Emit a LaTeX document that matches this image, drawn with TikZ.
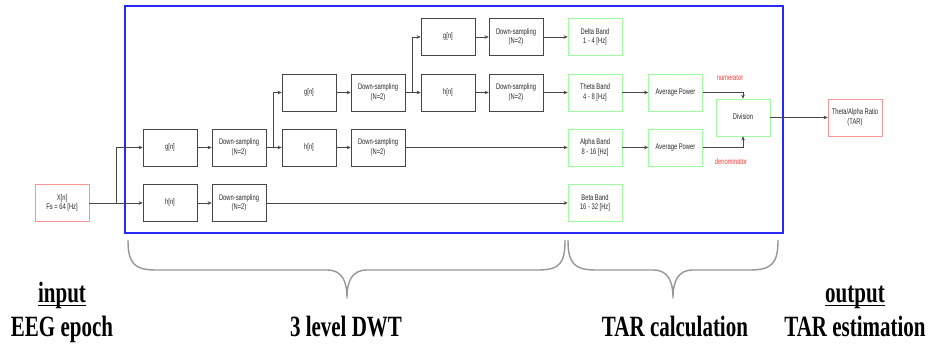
\documentclass[tikz,border=0pt]{standalone}
\usepackage{fontspec}
\usepackage{graphicx}
\setmainfont{Liberation Serif}
\newfontfamily\boxfam{Liberation Sans}
\usetikzlibrary{arrows.meta}

\definecolor{boxline}{RGB}{70,70,70}
\definecolor{boxtext}{RGB}{40,40,40}
\definecolor{bandgreen}{RGB}{160,250,160}
\definecolor{ioRed}{RGB}{250,150,150}
\definecolor{noteRed}{RGB}{255,55,55}
\definecolor{frameBlue}{RGB}{40,40,250}
\definecolor{braceGray}{RGB}{150,150,150}

% small, slightly tall sans text inside the blocks
\newcommand{\stxt}[1]{\scalebox{1}[1.4]{\begin{tabular}{@{}c@{}}#1\end{tabular}}}
% large, tall serif captions under the diagram
\newcommand{\btxt}[1]{\scalebox{1}[1.4]{#1}}
\newcommand{\ulword}[1]{\setbox0\hbox{#1}\rlap{\rule[-2.3pt]{\wd0}{1pt}}\box0}

\tikzset{
  blk/.style={draw=boxline, line width=0.7pt, minimum width=54pt, minimum height=37pt,
    inner sep=0pt, text=boxtext, font=\boxfam\fontsize{5.8}{7}\selectfont},
  band/.style={blk, draw=bandgreen},
  iobox/.style={blk, draw=ioRed},
  conn/.style={draw=boxline, line width=0.7pt},
  arr/.style={conn, -{Stealth[length=4pt,width=3.6pt]}},
  note/.style={text=noteRed, font=\boxfam\fontsize{5.8}{7}\selectfont},
  brace/.style={draw=braceGray, line width=1.4pt, line join=round},
  caption/.style={font=\fontsize{21}{24}\selectfont\bfseries, anchor=base, inner sep=0pt}
}

\begin{document}
\begin{tikzpicture}[x=1pt,y=-1pt]
\useasboundingbox (0,0) rectangle (929,347);

% DWT / TAR processing frame
\draw[frameBlue, line width=2.4pt] (125,6) rectangle (783,233);

% input and output
\node[iobox] (x)   at (62,203)    {\stxt{X[n]\\Fs = 64 [Hz]}};
\node[iobox] (tar) at (855,117.5) {\stxt{Theta/Alpha Ratio\\(TAR)}};

% level 1
\node[blk] (g1)  at (170,147.5) {\stxt{g[n]}};
\node[blk] (d1g) at (239,147.5) {\stxt{Down-sampling\\(N=2)}};
\node[blk] (h1)  at (170,203)   {\stxt{h[n]}};
\node[blk] (d1h) at (239,203)   {\stxt{Down-sampling\\(N=2)}};

% level 2
\node[blk] (g2)  at (309,92.5)  {\stxt{g[n]}};
\node[blk] (d2g) at (378,92.5)  {\stxt{Down-sampling\\(N=2)}};
\node[blk] (h2)  at (309,147.5) {\stxt{h[n]}};
\node[blk] (d2h) at (378,147.5) {\stxt{Down-sampling\\(N=2)}};

% level 3
\node[blk] (g3)  at (448,37)    {\stxt{g[n]}};
\node[blk] (d3g) at (516,37)    {\stxt{Down-sampling\\(N=2)}};
\node[blk] (h3)  at (448,92.5)  {\stxt{h[n]}};
\node[blk] (d3h) at (516,92.5)  {\stxt{Down-sampling\\(N=2)}};

% frequency bands
\node[band] (delta) at (595,37)    {\stxt{Delta Band\\1 - 4 [Hz]}};
\node[band] (theta) at (595,92.5)  {\stxt{Theta Band\\4 - 8 [Hz]}};
\node[band] (alpha) at (595,147.5) {\stxt{Alpha Band\\8 - 16 [Hz]}};
\node[band] (beta)  at (595,203)   {\stxt{Beta Band\\16 - 32 [Hz]}};

% TAR calculation
\node[band] (ap1) at (675.5,92.5)  {\stxt{Average Power}};
\node[band] (ap2) at (675.5,147.5) {\stxt{Average Power}};
\node[band] (div) at (743,117.5)   {\stxt{Division}};

\node[note] (num) at (730,78)  {\scalebox{1}[1.4]{numerator}};
\node[note] (den) at (731,162) {\scalebox{1}[1.4]{denominator}};

% branch points
\coordinate (j0) at (116,203);
\coordinate (j1) at (273,147.5);
\coordinate (j2) at (412,92.5);

% connectors
\draw[conn] (x) -- (j0);
\draw[arr] (j0) -- (h1);
\draw[arr] (j0) |- (g1);
\draw[arr] (g1) -- (d1g);
\draw[arr] (h1) -- (d1h);
\draw[arr] (d1h) -- (beta);

\draw[conn] (d1g) -- (j1);
\draw[arr] (j1) -- (h2);
\draw[arr] (j1) |- (g2);
\draw[arr] (g2) -- (d2g);
\draw[arr] (h2) -- (d2h);
\draw[arr] (d2h) -- (alpha);

\draw[conn] (d2g) -- (j2);
\draw[arr] (j2) -- (h3);
\draw[arr] (j2) |- (g3);
\draw[arr] (g3) -- (d3g);
\draw[arr] (h3) -- (d3h);
\draw[arr] (d3g) -- (delta);
\draw[arr] (d3h) -- (theta);

\draw[arr] (theta) -- (ap1);
\draw[arr] (alpha) -- (ap2);
\draw[arr] (ap1) -| (div);
\draw[arr] (ap2) -| (div);
\draw[arr] (div) -- (tar);

% braces under the stages
\draw[brace] (128,240) .. controls (128,263) and (134,270) .. (156,270)
  -- (327,270) .. controls (342,270) and (347,281) .. (347,298)
  .. controls (347,281) and (352,270) .. (367,270)
  -- (538,270) .. controls (560,270) and (565,263) .. (565,240);
\draw[brace] (568,240) .. controls (568,263) and (574,270) .. (596,270)
  -- (653,270) .. controls (668,270) and (673,281) .. (673,298)
  .. controls (673,281) and (678,270) .. (693,270)
  -- (750,270) .. controls (772,270) and (778,263) .. (778,240);

% captions
\node[caption] (inl)  at (62,303)  {\btxt{\ulword{input}}};
\node[caption] (inc)  at (62,337)  {\btxt{EEG epoch}};
\node[caption] (dwt)  at (346,337) {\btxt{3 level DWT}};
\node[caption] (calc) at (675,337) {\btxt{TAR calculation}};
\node[caption] (outl) at (855,303) {\btxt{\ulword{output}}};
\node[caption] (outc) at (855,337) {\btxt{TAR estimation}};
\end{tikzpicture}
\end{document}
